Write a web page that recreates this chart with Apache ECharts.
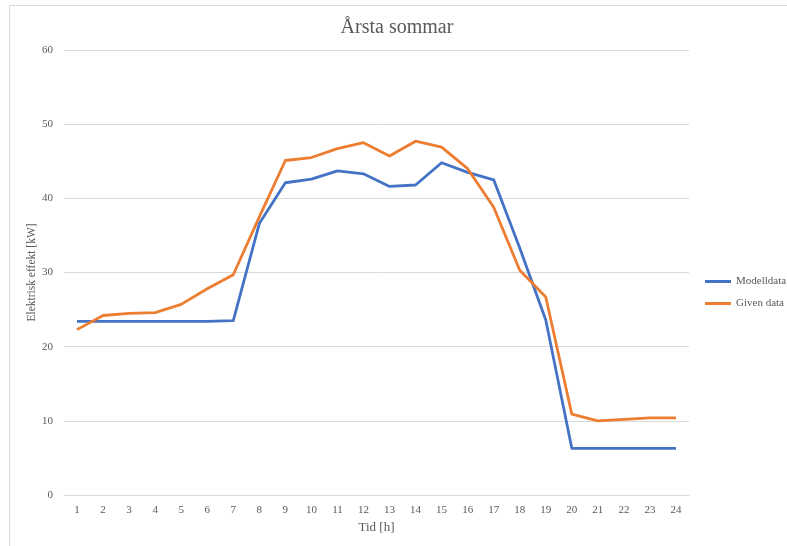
<!DOCTYPE html>
<html>
<head>
<meta charset="utf-8">
<script src="https://cdn.jsdelivr.net/npm/echarts@6/dist/echarts.min.js"></script>
<style>
  html, body { margin: 0; padding: 0; background: #fff; }
  #chart { width: 787px; height: 546px; }
</style>
</head>
<body>
<div id="chart"></div>
<script>
// Hours of the day (x axis categories)
const hours = ['1','2','3','4','5','6','7','8','9','10','11','12','13','14','15','16','17','18','19','20','21','22','23','24'];

// Modelled electric power [kW]
const modelData = [23.4, 23.4, 23.4, 23.4, 23.4, 23.4, 23.5, 36.6, 42.1, 42.6, 43.7, 43.3, 41.6, 41.8, 44.8, 43.5, 42.5, 33.3, 23.6, 6.3, 6.3, 6.3, 6.3, 6.3];

// Measured (given) electric power [kW]
const givenData = [22.3, 24.2, 24.5, 24.6, 25.7, 27.8, 29.7, 37.5, 45.1, 45.5, 46.7, 47.5, 45.7, 47.7, 46.9, 44.0, 38.8, 30.3, 26.7, 10.9, 10.0, 10.2, 10.4, 10.4];

const seriesNames = ['Modelldata', 'Given data'];
const seriesColors = ['#4472C4', '#ED7D31'];

const serif = '"Liberation Serif", "Times New Roman", serif';
const textGray = '#595959';

const chart = echarts.init(document.getElementById('chart'), null, { renderer: 'canvas' });

chart.setOption({
  animation: false,
  backgroundColor: '#ffffff',
  graphic: [{
    type: 'rect',
    shape: { x: 9.5, y: 5.5, width: 800, height: 560 },
    style: { fill: 'none', stroke: '#d9d9d9', lineWidth: 1 },
    silent: true
  }],
  title: {
    text: 'Årsta sommar',
    left: 392,
    top: 13,
    textAlign: 'center',
    textStyle: { fontFamily: serif, fontSize: 20, fontWeight: 'normal', color: textGray }
  },
  legend: {
    orient: 'vertical',
    left: 705,
    top: 276,
    padding: 0,
    itemWidth: 26,
    itemHeight: 3,
    itemGap: 11,
    icon: 'rect',
    data: seriesNames,
    textStyle: { fontFamily: serif, fontSize: 11, color: textGray }
  },
  grid: { left: 64, right: 98, top: 50, bottom: 51 },
  xAxis: {
    type: 'category',
    data: hours,
    boundaryGap: true,
    name: 'Tid [h]',
    nameLocation: 'middle',
    nameGap: 22,
    nameTextStyle: { fontFamily: serif, fontSize: 13, color: textGray },
    axisLine: { show: true, lineStyle: { color: '#d9d9d9', width: 1 } },
    axisTick: { show: false },
    axisLabel: { fontFamily: serif, fontSize: 11, color: textGray, margin: 10 },
    splitLine: { show: false }
  },
  yAxis: {
    type: 'value',
    min: 0,
    max: 60,
    interval: 10,
    name: 'Elektrisk effekt [kW]',
    nameLocation: 'middle',
    nameMoveOverlap: false,
    nameGap: 26,
    nameTextStyle: { fontFamily: serif, fontSize: 11.5, color: textGray },
    axisLine: { show: false },
    axisTick: { show: false },
    axisLabel: { fontFamily: serif, fontSize: 11, color: textGray, margin: 11 },
    splitLine: { lineStyle: { color: '#d9d9d9', width: 1 } }
  },
  series: [
    {
      name: seriesNames[0],
      type: 'line',
      data: modelData,
      symbol: 'none',
      lineStyle: { color: seriesColors[0], width: 2.8, join: 'round' },
      itemStyle: { color: seriesColors[0] }
    },
    {
      name: seriesNames[1],
      type: 'line',
      data: givenData,
      symbol: 'none',
      lineStyle: { color: seriesColors[1], width: 2.8, join: 'round' },
      itemStyle: { color: seriesColors[1] }
    }
  ]
});
</script>
</body>
</html>
